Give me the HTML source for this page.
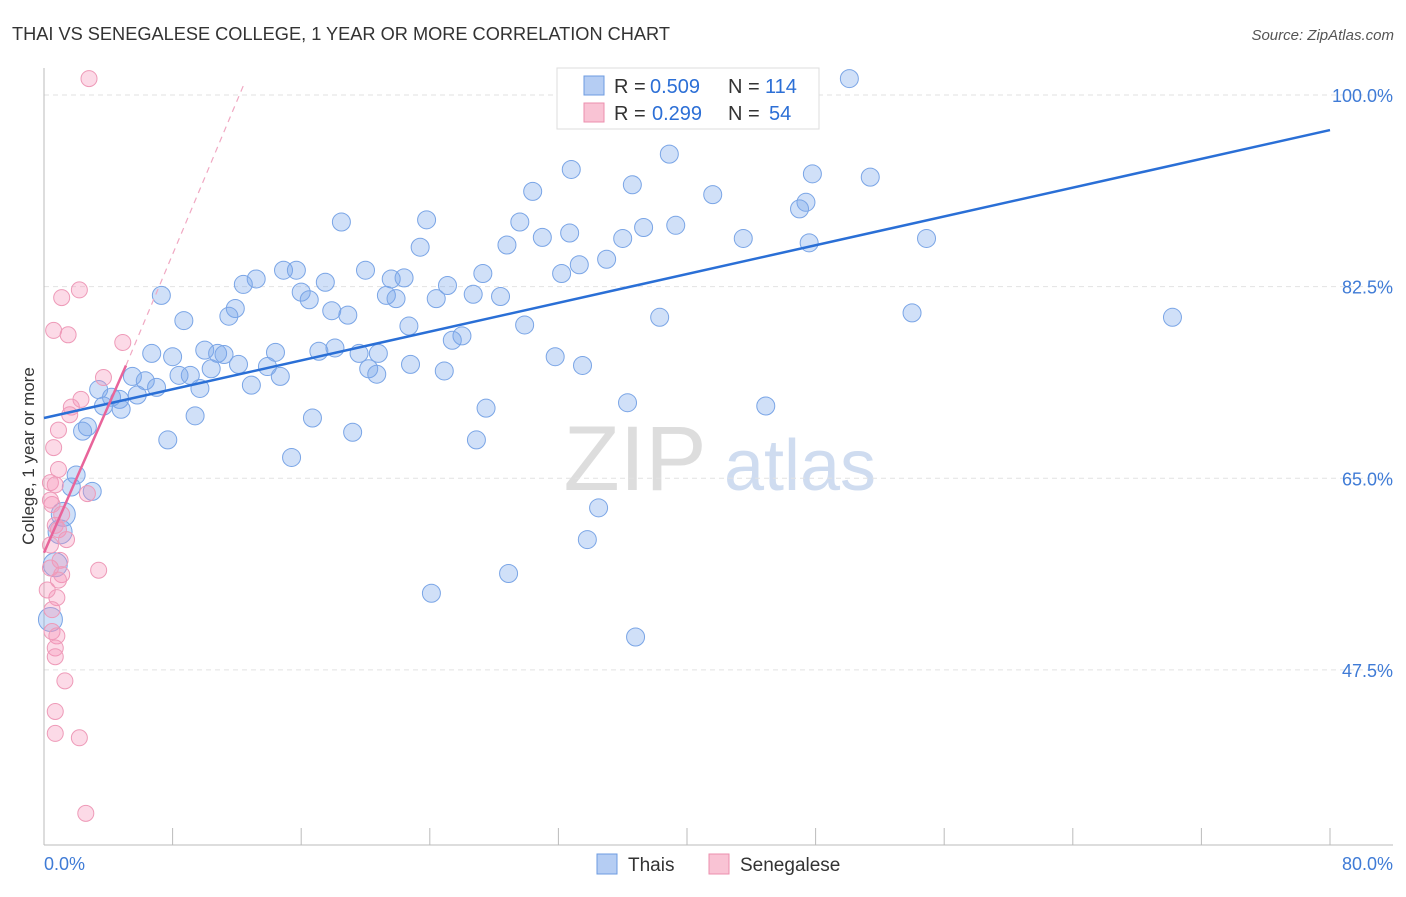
<!DOCTYPE html>
<html><head><meta charset="utf-8"><style>
body{margin:0;background:#fff;font-family:"Liberation Sans",sans-serif;}
svg text{font-family:"Liberation Sans",sans-serif;}
</style></head><body>
<svg width="1406" height="892" viewBox="0 0 1406 892" id="chart">
<text x="12" y="40" font-size="18.2" fill="#333">THAI VS SENEGALESE COLLEGE, 1 YEAR OR MORE CORRELATION CHART</text>
<text x="1394" y="40" font-size="15" fill="#555" font-style="italic" text-anchor="end">Source: ZipAtlas.com</text>
<text transform="translate(34,456) rotate(-90)" font-size="17" fill="#333" text-anchor="middle">College, 1 year or more</text>
<g><text x="635" y="490" font-size="92" fill="#ddd" text-anchor="middle" font-family="Liberation Serif">ZIP</text><text x="800" y="490" font-size="72" fill="#cfdcf0" text-anchor="middle">atlas</text></g>
<g id="grid"></g><g id="marks"></g>
<g>
<rect x="557" y="68" width="262" height="61" fill="#fff" stroke="#ddd"/>
<rect x="584" y="76" width="20" height="19" fill="#b5cdf3" stroke="#6d9be0"/>
<rect x="584" y="103" width="20" height="19" fill="#f9c3d4" stroke="#ec8fae"/>
<text x="614" y="93" font-size="20" fill="#333">R =</text><text x="650" y="93" font-size="20" fill="#2c6fd6">0.509</text>
<text x="728" y="93" font-size="20" fill="#333">N =</text><text x="765" y="93" font-size="20" fill="#2c6fd6">114</text>
<text x="614" y="120" font-size="20" fill="#333">R =</text><text x="652" y="120" font-size="20" fill="#2c6fd6">0.299</text>
<text x="728" y="120" font-size="20" fill="#333">N =</text><text x="769" y="120" font-size="20" fill="#2c6fd6">54</text>
</g>
<g>
<rect x="597" y="854" width="20" height="20" fill="#b5cdf3" stroke="#6d9be0"/><text x="628" y="871" font-size="19" fill="#333">Thais</text>
<rect x="709" y="854" width="20" height="20" fill="#f9c3d4" stroke="#ec8fae"/><text x="740" y="871" font-size="19" fill="#333">Senegalese</text>
</g>
</svg>
<script>
const yTicks=[47.5,65.0,82.5,100.0];
const xTickLabels=["0.0%","80.0%"];
const thaiX=[50.1,38.9,32.8,47.8,51.4,36.6,30.4,41.6,47.4,47.0,18.5,23.8,29.6,37.3,39.3,32.7,31.0,36.0,43.5,54.9,28.8,23.4,47.6,35.0,33.3,14.9,15.7,27.3,20.0,32.2,21.6,22.4,13.2,12.4,17.5,25.1,7.3,16.0,21.3,21.9,24.4,26.7,28.4,16.5,11.9,11.5,17.9,18.9,8.7,38.3,54.0,70.2,22.7,29.9,26.0,25.4,18.1,14.4,17.1,10.0,10.8,11.2,6.7,8.0,19.6,20.8,31.8,13.9,10.4,12.1,22.8,33.5,20.2,20.7,24.9,9.1,8.4,14.7,5.5,6.3,7.0,12.9,9.7,3.4,4.2,5.8,4.7,3.7,4.8,36.3,44.9,27.5,9.4,16.7,19.2,7.7,26.9,2.7,2.4,15.4,2.0,1.7,3.0,1.2,34.5,33.8,1.0,0.7,28.9,24.1,0.4,36.8];
const thaiY=[101.5,94.6,93.2,92.8,92.5,91.8,91.2,90.9,90.2,89.6,88.4,88.6,88.4,87.9,88.1,87.4,87.0,86.9,86.9,86.9,86.3,86.1,86.5,85.0,84.5,84.0,84.0,83.7,84.0,83.7,83.2,83.3,83.2,82.7,82.9,82.6,81.7,82.0,81.7,81.4,81.4,81.8,81.6,81.3,80.5,79.8,80.3,79.9,79.4,79.7,80.1,79.7,78.9,79.0,78.0,77.6,76.9,76.5,76.6,76.7,76.4,76.3,76.4,76.1,76.4,76.4,76.1,75.2,75.0,75.4,75.4,75.3,75.0,74.5,74.8,74.4,74.4,74.3,74.3,73.9,73.3,73.5,73.2,73.1,72.4,72.6,72.2,71.6,71.3,71.9,71.6,71.4,70.7,70.5,69.2,68.5,68.5,69.7,69.3,66.9,65.3,64.2,63.8,61.7,62.3,59.4,60.1,57.1,56.3,54.5,52.1,50.5];
const senX=[2.8,2.2,1.1,0.6,1.5,4.9,3.7,2.3,1.7,1.6,0.9,0.6,0.9,0.4,0.7,2.7,0.5,1.1,0.7,0.9,1.4,0.4,1.0,0.4,3.4,1.1,0.9,0.8,0.5,0.5,0.8,0.7,0.7,1.3,0.7,0.7,2.2,2.6,0.2,0.4];
const senY=[101.5,82.2,81.5,78.5,78.1,77.4,74.2,72.2,71.5,70.8,69.4,67.8,65.8,64.6,64.4,63.6,62.6,61.7,60.7,60.3,59.4,58.9,57.5,56.8,56.6,56.2,55.7,54.1,53.0,51.0,50.6,49.5,48.7,46.5,43.7,41.7,41.3,34.4,54.8,63.0];
const thaiTrend=[[0,70.5],[80,96.8]];
const senTrend=[[0,58.2],[5.1,75.3]];
const senTrendExt=[[5.1,75.3],[12.5,101.2]];
const sx=v=>44+v*16.075, sy=v=>95+(100-v)*10.95;
const NS="http://www.w3.org/2000/svg";
function mk(t,a,p){const e=document.createElementNS(NS,t);for(const k in a)e.setAttribute(k,a[k]);p.appendChild(e);return e;}
const grid=document.getElementById('grid'),marks=document.getElementById('marks');
yTicks.forEach(v=>{
 const l=mk('line',{x1:44,x2:1393,y1:sy(v),y2:sy(v),stroke:'#e2e2e2','stroke-dasharray':'5,4'},grid);
 
 
 const t=mk('text',{x:1393,y:sy(v)+7,'font-size':18,fill:'#3f7bd6','text-anchor':'end'},grid);t.textContent=v.toFixed(1)+'%';
 
 
});
mk('line',{x1:44,x2:44,y1:68,y2:845,stroke:'#bbb'},grid);
mk('line',{x1:44,x2:1393,y1:845,y2:845,stroke:'#bbb'},grid);
for(let i=0;i<=10;i++){const x=sx(i*8);mk('line',{x1:x,x2:x,y1:828,y2:845,stroke:'#bbb'},grid);}
[[0,'start',44],[1,'end',1393]].forEach(([i,a,x])=>{const t=mk('text',{x:x,y:870,'font-size':18,fill:'#3f7bd6','text-anchor':a},grid);t.textContent=xTickLabels[i];
 
 });
thaiX.forEach((x,i)=>{const r=x<1.5?12:9;const c=mk('circle',{cx:sx(x),cy:sy(thaiY[i]),r:r,fill:'rgba(120,165,235,0.35)',stroke:'#7aa5e6','stroke-width':1},marks);
 
 });
senX.forEach((x,i)=>{const c=mk('circle',{cx:sx(x),cy:sy(senY[i]),r:8,fill:'rgba(245,150,185,0.35)',stroke:'#ee9ab8','stroke-width':1},marks);
 
 });
const tl=mk('line',{x1:sx(thaiTrend[0][0]),y1:sy(thaiTrend[0][1]),x2:sx(thaiTrend[1][0]),y2:sy(thaiTrend[1][1]),stroke:'#2a6fd6','stroke-width':2.5},marks);


const sl=mk('line',{x1:sx(senTrend[0][0]),y1:sy(senTrend[0][1]),x2:sx(senTrend[1][0]),y2:sy(senTrend[1][1]),stroke:'#e8649a','stroke-width':2.5},marks);


const se=mk('line',{x1:sx(senTrendExt[0][0]),y1:sy(senTrendExt[0][1]),x2:sx(senTrendExt[1][0]),y2:sy(senTrendExt[1][1]),stroke:'#f0a8c2','stroke-width':1.2,'stroke-dasharray':'6,5'},marks);


</script>
</body></html>
